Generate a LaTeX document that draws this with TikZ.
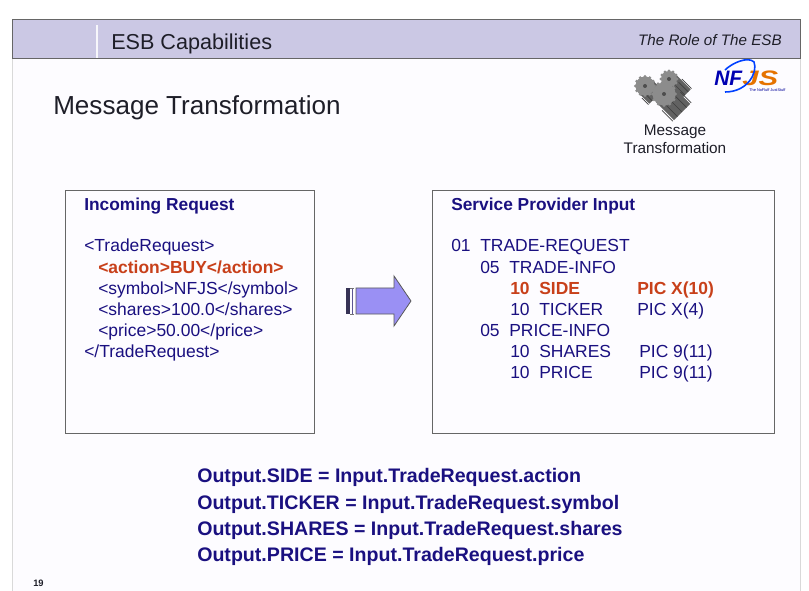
\documentclass[tikz,border=0pt]{standalone}
\usepackage{fontspec}
\setmainfont{Liberation Sans}
\usetikzlibrary{positioning, calc}
\definecolor{band}{HTML}{CBC8E4}
\definecolor{navy}{HTML}{1A1080}
\definecolor{hot}{HTML}{C8401A}
\definecolor{ink}{HTML}{1E1E28}
\definecolor{arrowfill}{HTML}{9A90F4}
\definecolor{page}{HTML}{FDFCFF}
\definecolor{gearc}{HTML}{8C8C8C}

\begin{document}
\begin{tikzpicture}[
    x=0.75pt, y=-0.75pt,
    txt/.style={anchor=base west, inner sep=0pt, text=navy, font=\fontsize{13.1}{15}\selectfont},
    hotline/.style={txt, text=hot, font=\fontsize{13.1}{15}\selectfont\bfseries},
    headline/.style={txt, font=\fontsize{13}{15}\selectfont\bfseries},
    formula/.style={txt, font=\fontsize{14.7}{17}\selectfont\bfseries},
    panel/.style={draw=black!60, line width=0.6pt, fill=page},
    gearwheel/.style={fill=gearc, draw=none}
]
    \useasboundingbox (0,0) rectangle (809,591);
    \fill[white] (0,0) rectangle (809,591);

    % Slide and title band
    \fill[page] (12,19) rectangle (800,591);
    \draw[black!15] (12,58) -- (12,591);
    \draw[black!15] (800,58) -- (800,591);
    \draw[fill=band, draw=black!60, line width=0.7pt] (12,19) rectangle (800,58);
    \draw[white!85!band, line width=0.8pt] (97,25) -- (97,58);
    \node[txt, text=ink, font=\fontsize{16.2}{18}\selectfont] (band_title) at (111,50) {ESB Capabilities};
    \node[txt, text=ink, font=\fontsize{11.4}{13}\selectfont\itshape, anchor=base east] (band_role) at (782,46) {The Role of The ESB};
    \node[txt, text=ink, font=\fontsize{19.55}{22}\selectfont] (page_title) at (53,115) {Message Transformation};

    % Gears
    \foreach \cx/\cy/\r/\len in {669/79/8/16, 645/86/9.5/11, 664/94/11.5/18} {
        \draw[gearc!70!black, line width=\r*1.5pt] (\cx,\cy) -- ++(\len,\len);
        \foreach \k in {-0.8,-0.4,...,0.81} {
            \draw[gearc!45!black, line width=0.5pt] (\cx,\cy) ++(\k*\r,-\k*\r) ++(\len*0.4,\len*0.4) -- ++(\len*0.6,\len*0.6);
        }
        \fill[gearwheel] (\cx,\cy) circle (\r);
        \foreach \k in {0,30,...,330} {
            \fill[gearwheel] (\cx,\cy) ++(\k:\r) circle (1.6);
        }
        \fill[gearc!55!black] (\cx,\cy) circle (2);
    }
    \node[txt, text=ink, font=\fontsize{11.5}{13}\selectfont, anchor=base] (gear_top) at (675,136) {Message};
    \node[txt, text=ink, font=\fontsize{11.5}{13}\selectfont, anchor=base] (gear_bot) at (675,154) {Transformation};

    % NFJS logo
    \node[txt, text=blue!70!black, font=\fontsize{15.7}{16}\selectfont\bfseries\itshape] (logo_nf) at (714,86) {NF};
    \node[txt, text=orange!90!black, font=\fontsize{15.7}{16}\selectfont\bfseries\itshape] (logo_js) at (742,86) {\scalebox{1.4}[1]{JS}};
    \draw[blue!75!cyan, line width=1.2pt] (725,70) .. controls (732,63) and (748,56) .. (754,62) .. controls (758,72) and (748,92) .. (725,92);
    \node[txt, text=blue!60!black, font=\fontsize{2.9}{3}\selectfont] (logo_tag) at (749,91.5) {The NoFluff JustStuff};

    % Incoming request panel
    \node[panel, minimum width=249.5*0.75pt, minimum height=243*0.75pt, inner sep=0pt, anchor=north west] (incoming) at (64.5,190) {};
    \node[headline] (in_head) at (84,211) {Incoming Request};
    \node[txt] (in_open) at (84,252) {<TradeRequest>};
    \node[hotline] (in_action) at (98,273) {<action>BUY</action>};
    \node[txt] (in_symbol) at (98,294.5) {<symbol>NFJS</symbol>};
    \node[txt] (in_shares) at (98,315.5) {<shares>100.0</shares>};
    \node[txt] (in_price) at (98,336) {<price>50.00</price>};
    \node[txt] (in_close) at (84,357.5) {</TradeRequest>};

    % Arrow
    \draw[fill=arrowfill, draw=black!65, line width=0.6pt] (356,288) -- (394,288) -- (394,276) -- (411,301) -- (394,326) -- (394,314) -- (356,314) -- cycle;
    \fill[arrowfill!35!black] (346,288) rectangle (350,314);
    \draw[arrowfill!60!black, line width=0.8pt] (352.5,288) -- (352.5,314);
    \draw[black!55, line width=0.5pt] (350,288) -- (354,288) (350,314) -- (354,314);

    % Service provider panel
    \node[panel, minimum width=342*0.75pt, minimum height=243*0.75pt, inner sep=0pt, anchor=north west] (provider) at (432,190) {};
    \node[headline] (out_head) at (451,211) {Service Provider Input};
    \node[txt] (out_01) at (451,252) {01\hspace{0.55em}TRADE-REQUEST};
    \node[txt] (out_info) at (480,273) {05\hspace{0.55em}TRADE-INFO};
    \node[hotline] (out_side) at (510,294.5) {10\hspace{0.55em}SIDE};
    \node[hotline] (pic_side) at (637,294.5) {PIC X(10)};
    \node[txt] (out_ticker) at (510,315.5) {10\hspace{0.55em}TICKER};
    \node[txt] (pic_ticker) at (637,315.5) {PIC X(4)};
    \node[txt] (out_pinfo) at (480,336) {05\hspace{0.55em}PRICE-INFO};
    \node[txt] (out_shares) at (510,357) {10\hspace{0.55em}SHARES};
    \node[txt] (pic_shares) at (639,357) {PIC 9(11)};
    \node[txt] (out_price) at (510,378) {10\hspace{0.55em}PRICE};
    \node[txt] (pic_price) at (639,378) {PIC 9(11)};

    % Mapping rules
    \node[formula] (map_side) at (197,482) {Output.SIDE = Input.TradeRequest.action};
    \node[formula] (map_ticker) at (197,509) {Output.TICKER = Input.TradeRequest.symbol};
    \node[formula] (map_shares) at (197,535) {Output.SHARES = Input.TradeRequest.shares};
    \node[formula] (map_price) at (197,561) {Output.PRICE = Input.TradeRequest.price};

    \node[txt, text=ink, font=\fontsize{7}{8}\selectfont\bfseries] (page_no) at (33,586) {19};
\end{tikzpicture}
\end{document}
